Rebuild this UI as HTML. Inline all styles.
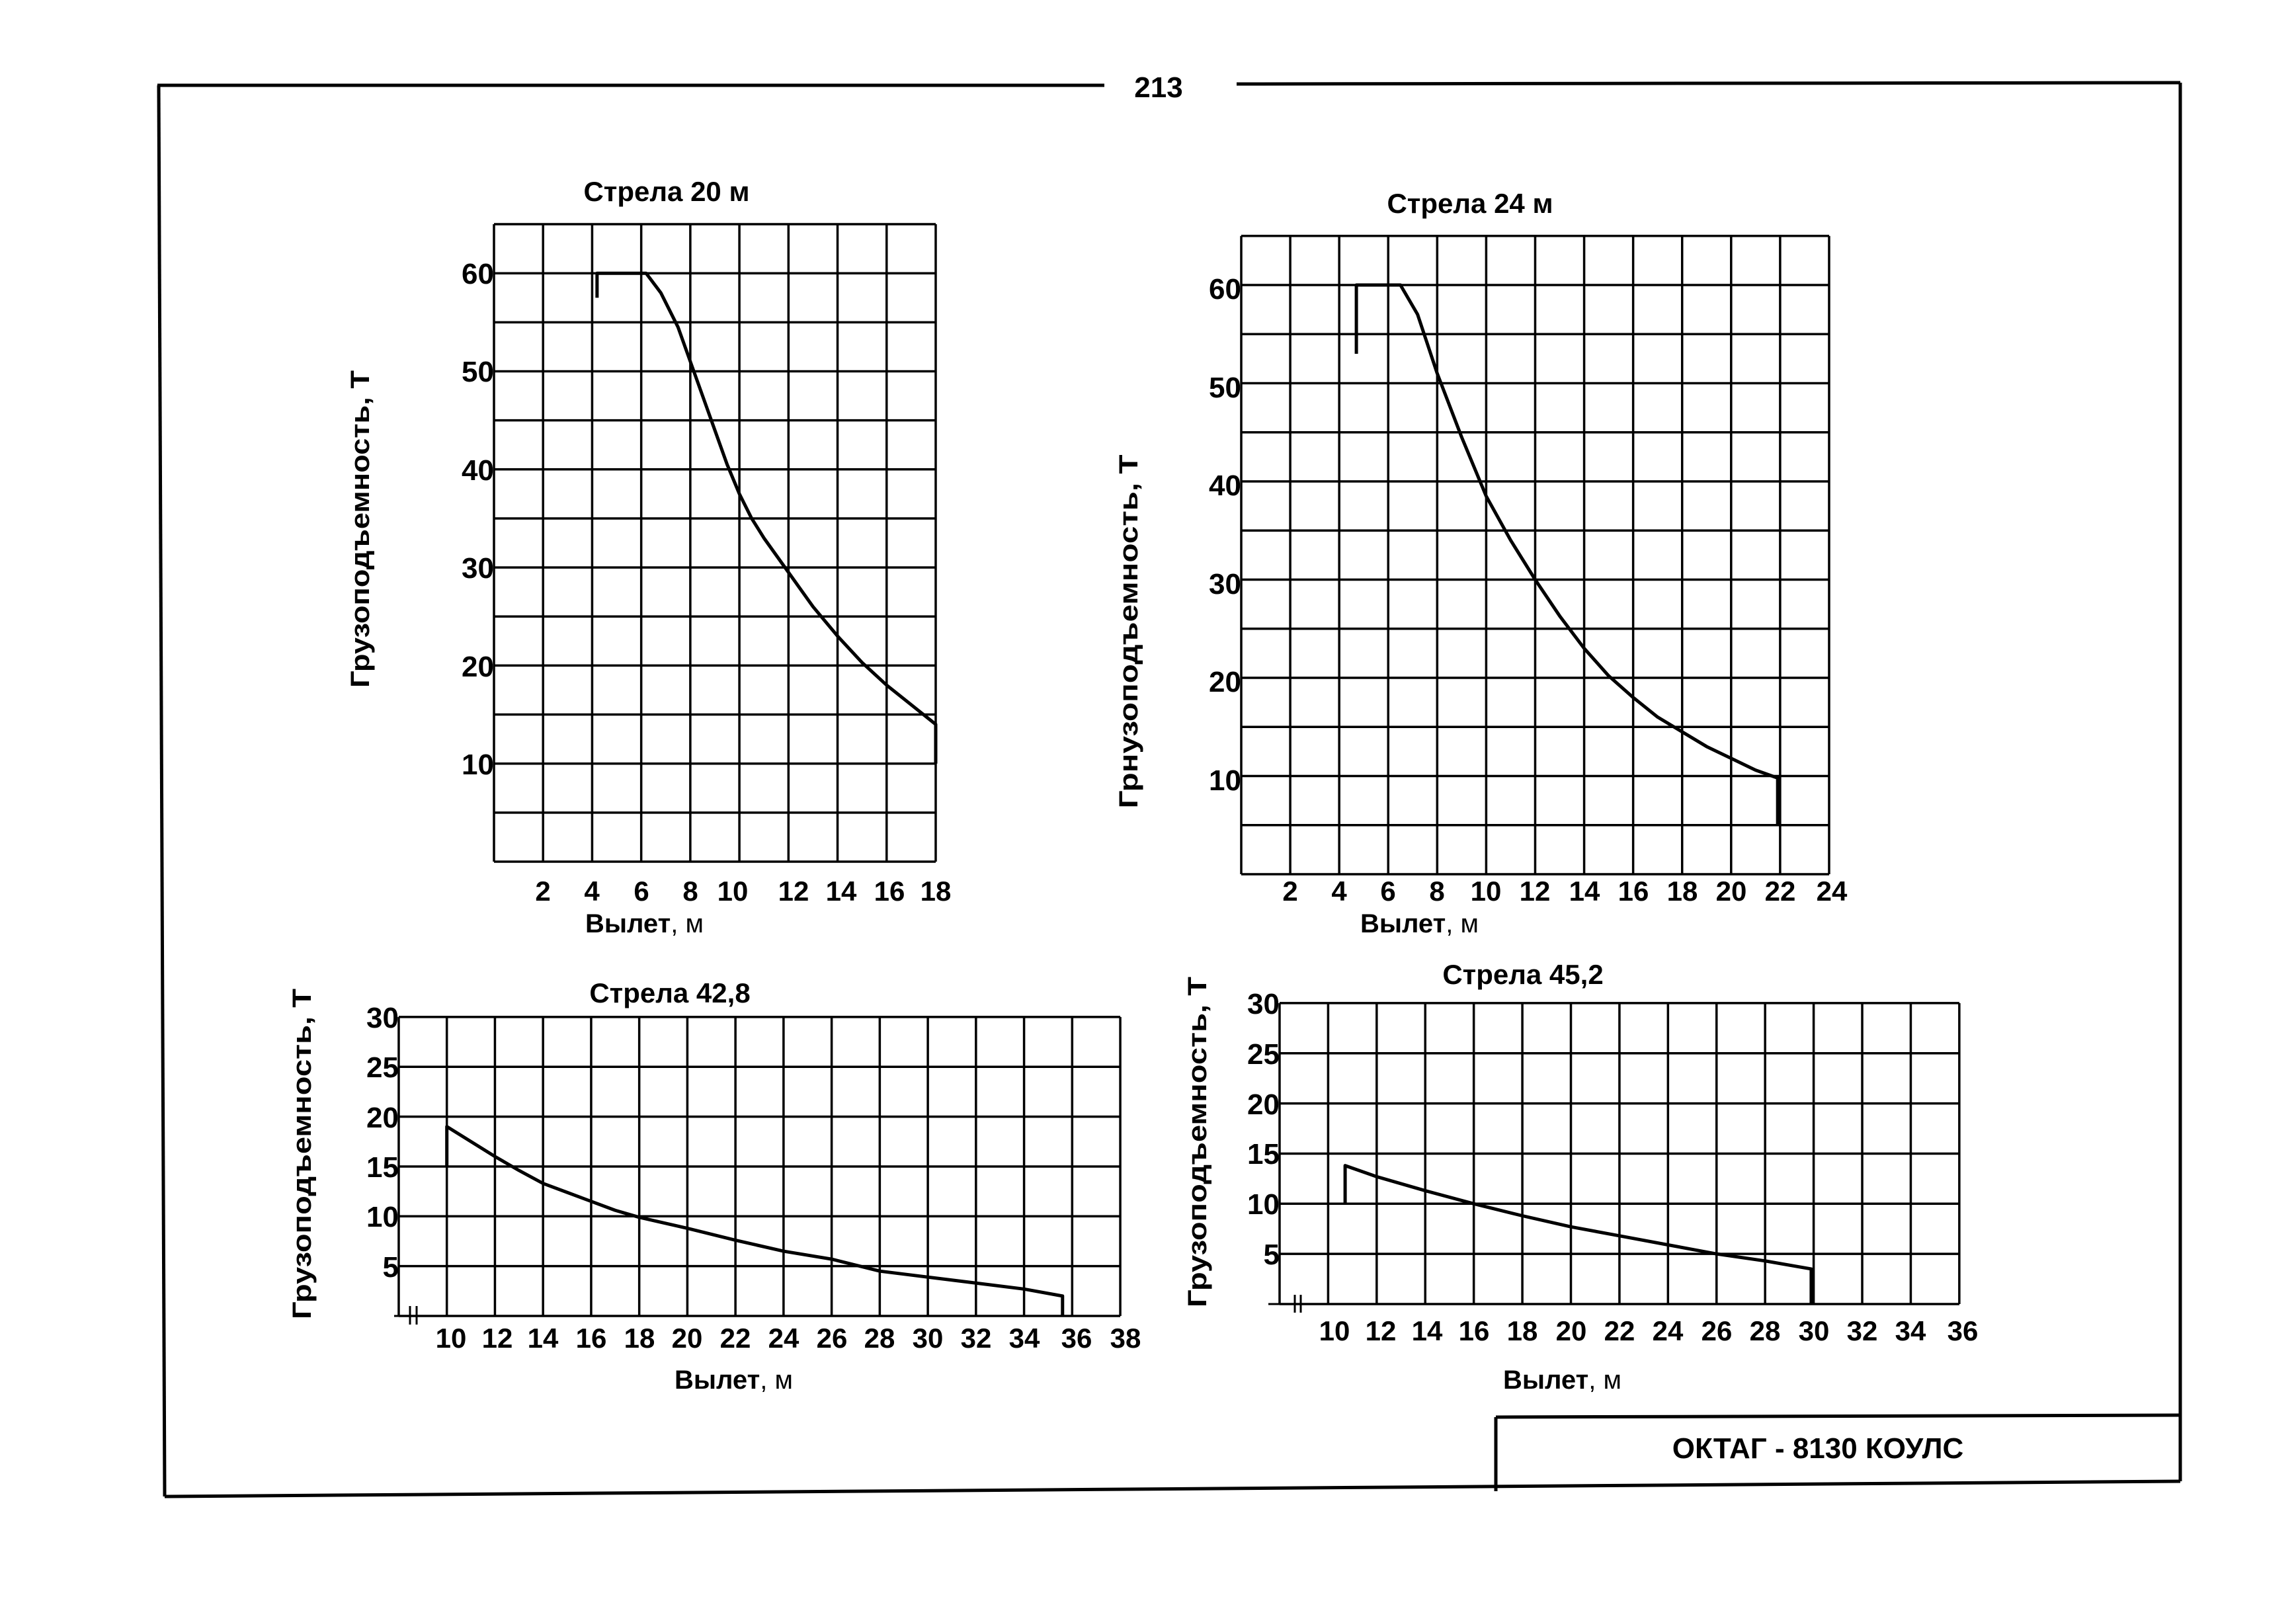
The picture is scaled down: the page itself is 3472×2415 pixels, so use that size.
<!DOCTYPE html>
<html><head><meta charset="utf-8"><style>
html,body{margin:0;padding:0;background:#fff}
svg{display:block}
text{font-family:"Liberation Sans",sans-serif;font-weight:bold;fill:#000}
.g line,.g polyline{vector-effect:non-scaling-stroke;fill:none;stroke:#000}
.g line{stroke-width:3.5}
.g polyline{stroke-width:5;stroke-linejoin:round}
.yt{font-size:44px;text-anchor:end}
.xt{font-size:42px;text-anchor:middle}
.ti{font-size:42px;text-anchor:middle}
.lb{font-size:40px}
</style></head><body>
<svg width="3472" height="2415" viewBox="0 0 3472 2415" xmlns="http://www.w3.org/2000/svg">
<rect width="3472" height="2415" fill="#fff"/>
<g stroke="#000" stroke-width="5" fill="none">
<line x1="238" y1="129" x2="1670" y2="129"/>
<line x1="1870" y1="127" x2="3297" y2="125"/>
<line x1="3297" y1="125" x2="3297" y2="2240"/>
<line x1="240" y1="129" x2="249" y2="2263"/>
<line x1="249" y1="2263" x2="3297" y2="2240"/>
<line x1="2262" y1="2143" x2="3297" y2="2140"/>
<line x1="2262" y1="2143" x2="2262" y2="2255"/>
</g>
<text x="1752" y="147" style="font-size:44px;text-anchor:middle">213</text>
<text x="2749" y="2205" style="font-size:44px;text-anchor:middle">ОКТАГ - 8130 КОУЛС</text>

<!-- Chart 1 -->
<text class="ti" x="1008" y="304">Стрела 20 м</text>
<text class="lb" transform="translate(558,800) rotate(-90)" text-anchor="middle" textLength="480" lengthAdjust="spacingAndGlyphs">Грузоподъемность, Т</text>
<g class="g" transform="matrix(37.11 0 0 -14.83 747 1303)">
<line x1="0" y1="0" x2="0" y2="65"/><line x1="2" y1="0" x2="2" y2="65"/><line x1="4" y1="0" x2="4" y2="65"/><line x1="6" y1="0" x2="6" y2="65"/><line x1="8" y1="0" x2="8" y2="65"/><line x1="10" y1="0" x2="10" y2="65"/><line x1="12" y1="0" x2="12" y2="65"/><line x1="14" y1="0" x2="14" y2="65"/><line x1="16" y1="0" x2="16" y2="65"/><line x1="18" y1="0" x2="18" y2="65"/>
<line x1="0" y1="0" x2="18" y2="0"/><line x1="0" y1="5" x2="18" y2="5"/><line x1="0" y1="10" x2="18" y2="10"/><line x1="0" y1="15" x2="18" y2="15"/><line x1="0" y1="20" x2="18" y2="20"/><line x1="0" y1="25" x2="18" y2="25"/><line x1="0" y1="30" x2="18" y2="30"/><line x1="0" y1="35" x2="18" y2="35"/><line x1="0" y1="40" x2="18" y2="40"/><line x1="0" y1="45" x2="18" y2="45"/><line x1="0" y1="50" x2="18" y2="50"/><line x1="0" y1="55" x2="18" y2="55"/><line x1="0" y1="60" x2="18" y2="60"/><line x1="0" y1="65" x2="18" y2="65"/>
<polyline points="4.2,57.5 4.2,60 6.2,60 6.8,58 7.5,54.5 8,51 8.5,47.5 9,44 9.5,40.5 10,37.5 10.5,35 11,33 12,29.5 13,26 14,23 15,20.3 16,18 17,16 18,14 18,10"/>
</g>
<text class="yt" x="747" y="429">60</text><text class="yt" x="747" y="577">50</text><text class="yt" x="747" y="726">40</text><text class="yt" x="747" y="874">30</text><text class="yt" x="747" y="1023">20</text><text class="yt" x="747" y="1171">10</text>
<text class="xt" x="821" y="1362">2</text><text class="xt" x="895" y="1362">4</text><text class="xt" x="970" y="1362">6</text><text class="xt" x="1044" y="1362">8</text><text class="xt" x="1108" y="1362">10</text><text class="xt" x="1200" y="1362">12</text><text class="xt" x="1272" y="1362">14</text><text class="xt" x="1345" y="1362">16</text><text class="xt" x="1415" y="1362">18</text>
<text class="lb" x="885" y="1410">Вылет<tspan font-weight="normal">, м</tspan></text>

<!-- Chart 2 -->
<text class="ti" x="2223" y="322">Стрела 24 м</text>
<text class="lb" transform="translate(1720,955) rotate(-90)" text-anchor="middle" textLength="535" lengthAdjust="spacingAndGlyphs">Грнузоподъемность, Т</text>
<g class="g" transform="matrix(37.04 0 0 -14.85 1877 1322)">
<line x1="0" y1="0" x2="0" y2="65"/><line x1="2" y1="0" x2="2" y2="65"/><line x1="4" y1="0" x2="4" y2="65"/><line x1="6" y1="0" x2="6" y2="65"/><line x1="8" y1="0" x2="8" y2="65"/><line x1="10" y1="0" x2="10" y2="65"/><line x1="12" y1="0" x2="12" y2="65"/><line x1="14" y1="0" x2="14" y2="65"/><line x1="16" y1="0" x2="16" y2="65"/><line x1="18" y1="0" x2="18" y2="65"/><line x1="20" y1="0" x2="20" y2="65"/><line x1="22" y1="0" x2="22" y2="65"/><line x1="24" y1="0" x2="24" y2="65"/>
<line x1="0" y1="0" x2="24" y2="0"/><line x1="0" y1="5" x2="24" y2="5"/><line x1="0" y1="10" x2="24" y2="10"/><line x1="0" y1="15" x2="24" y2="15"/><line x1="0" y1="20" x2="24" y2="20"/><line x1="0" y1="25" x2="24" y2="25"/><line x1="0" y1="30" x2="24" y2="30"/><line x1="0" y1="35" x2="24" y2="35"/><line x1="0" y1="40" x2="24" y2="40"/><line x1="0" y1="45" x2="24" y2="45"/><line x1="0" y1="50" x2="24" y2="50"/><line x1="0" y1="55" x2="24" y2="55"/><line x1="0" y1="60" x2="24" y2="60"/><line x1="0" y1="65" x2="24" y2="65"/>
<polyline points="4.7,53 4.7,60 6.5,60 7.2,57 8,51 9,44.5 10,38.5 11,34 12,30 13,26.3 14,23 15,20.2 16,18 17,16 18,14.5 19,13 20,11.8 21,10.6 21.9,9.8 21.9,5"/>
</g>
<text class="yt" x="1877" y="452">60</text><text class="yt" x="1877" y="601">50</text><text class="yt" x="1877" y="749">40</text><text class="yt" x="1877" y="898">30</text><text class="yt" x="1877" y="1046">20</text><text class="yt" x="1877" y="1195">10</text>
<text class="xt" x="1951" y="1362">2</text><text class="xt" x="2025" y="1362">4</text><text class="xt" x="2099" y="1362">6</text><text class="xt" x="2173" y="1362">8</text><text class="xt" x="2247" y="1362">10</text><text class="xt" x="2321" y="1362">12</text><text class="xt" x="2396" y="1362">14</text><text class="xt" x="2470" y="1362">16</text><text class="xt" x="2544" y="1362">18</text><text class="xt" x="2618" y="1362">20</text><text class="xt" x="2692" y="1362">22</text><text class="xt" x="2770" y="1362">24</text>
<text class="lb" x="2057" y="1410">Вылет<tspan font-weight="normal">, м</tspan></text>

<!-- Chart 3 -->
<text class="ti" x="1013" y="1516">Стрела 42,8</text>
<text class="lb" transform="translate(470,1745) rotate(-90)" text-anchor="middle" textLength="500" lengthAdjust="spacingAndGlyphs">Грузоподъемность, Т</text>
<g class="g" transform="matrix(36.37 0 0 -15.07 312 1990)">
<line x1="8" y1="0" x2="8" y2="30"/><line x1="10" y1="0" x2="10" y2="30"/><line x1="12" y1="0" x2="12" y2="30"/><line x1="14" y1="0" x2="14" y2="30"/><line x1="16" y1="0" x2="16" y2="30"/><line x1="18" y1="0" x2="18" y2="30"/><line x1="20" y1="0" x2="20" y2="30"/><line x1="22" y1="0" x2="22" y2="30"/><line x1="24" y1="0" x2="24" y2="30"/><line x1="26" y1="0" x2="26" y2="30"/><line x1="28" y1="0" x2="28" y2="30"/><line x1="30" y1="0" x2="30" y2="30"/><line x1="32" y1="0" x2="32" y2="30"/><line x1="34" y1="0" x2="34" y2="30"/><line x1="36" y1="0" x2="36" y2="30"/><line x1="38" y1="0" x2="38" y2="30"/>
<line x1="8" y1="0" x2="38" y2="0"/><line x1="8" y1="5" x2="38" y2="5"/><line x1="8" y1="10" x2="38" y2="10"/><line x1="8" y1="15" x2="38" y2="15"/><line x1="8" y1="20" x2="38" y2="20"/><line x1="8" y1="25" x2="38" y2="25"/><line x1="8" y1="30" x2="38" y2="30"/>
<polyline points="10,15 10,19 11,17.5 12,16 13,14.6 14,13.3 15,12.4 16,11.5 17,10.6 18,9.9 20,8.8 22,7.6 24,6.5 26,5.7 28,4.5 30,3.9 32,3.3 34,2.7 35.6,2 35.6,0"/>
</g>
<g stroke="#000" stroke-width="3"><line x1="596" y1="1990" x2="625" y2="1990"/><line x1="620" y1="1975" x2="620" y2="2003"/><line x1="630" y1="1975" x2="630" y2="2003"/></g>
<text class="yt" x="603" y="1554">30</text><text class="yt" x="603" y="1629">25</text><text class="yt" x="603" y="1705">20</text><text class="yt" x="603" y="1780">15</text><text class="yt" x="603" y="1855">10</text><text class="yt" x="603" y="1931">5</text>
<text class="xt" x="682" y="2038">10</text><text class="xt" x="752" y="2038">12</text><text class="xt" x="821" y="2038">14</text><text class="xt" x="894" y="2038">16</text><text class="xt" x="967" y="2038">18</text><text class="xt" x="1039" y="2038">20</text><text class="xt" x="1112" y="2038">22</text><text class="xt" x="1185" y="2038">24</text><text class="xt" x="1258" y="2038">26</text><text class="xt" x="1330" y="2038">28</text><text class="xt" x="1403" y="2038">30</text><text class="xt" x="1476" y="2038">32</text><text class="xt" x="1549" y="2038">34</text><text class="xt" x="1628" y="2038">36</text><text class="xt" x="1702" y="2038">38</text>
<text class="lb" x="1020" y="2100">Вылет<tspan font-weight="normal">, м</tspan></text>

<!-- Chart 4 -->
<text class="ti" x="2303" y="1488">Стрела 45,2</text>
<text class="lb" transform="translate(1824,1727) rotate(-90)" text-anchor="middle" textLength="500" lengthAdjust="spacingAndGlyphs">Грузоподъемность, Т</text>
<g class="g" transform="matrix(36.71 0 0 -15.17 1641.3 1972)">
<line x1="8" y1="0" x2="8" y2="30"/><line x1="10" y1="0" x2="10" y2="30"/><line x1="12" y1="0" x2="12" y2="30"/><line x1="14" y1="0" x2="14" y2="30"/><line x1="16" y1="0" x2="16" y2="30"/><line x1="18" y1="0" x2="18" y2="30"/><line x1="20" y1="0" x2="20" y2="30"/><line x1="22" y1="0" x2="22" y2="30"/><line x1="24" y1="0" x2="24" y2="30"/><line x1="26" y1="0" x2="26" y2="30"/><line x1="28" y1="0" x2="28" y2="30"/><line x1="30" y1="0" x2="30" y2="30"/><line x1="32" y1="0" x2="32" y2="30"/><line x1="34" y1="0" x2="34" y2="30"/><line x1="36" y1="0" x2="36" y2="30"/>
<line x1="8" y1="0" x2="36" y2="0"/><line x1="8" y1="5" x2="36" y2="5"/><line x1="8" y1="10" x2="36" y2="10"/><line x1="8" y1="15" x2="36" y2="15"/><line x1="8" y1="20" x2="36" y2="20"/><line x1="8" y1="25" x2="36" y2="25"/><line x1="8" y1="30" x2="36" y2="30"/>
<polyline points="10.7,10 10.7,13.8 12,12.7 14,11.3 16,10 18,8.8 20,7.7 22,6.8 24,5.9 26,5.0 28,4.3 29.9,3.5 29.9,0"/>
</g>
<g stroke="#000" stroke-width="3"><line x1="1918" y1="1972" x2="1945" y2="1972"/><line x1="1958" y1="1958" x2="1958" y2="1985"/><line x1="1967" y1="1958" x2="1967" y2="1985"/></g>
<text class="yt" x="1935" y="1533">30</text><text class="yt" x="1935" y="1609">25</text><text class="yt" x="1935" y="1685">20</text><text class="yt" x="1935" y="1760">15</text><text class="yt" x="1935" y="1836">10</text><text class="yt" x="1935" y="1912">5</text>
<text class="xt" x="2018" y="2027">10</text><text class="xt" x="2088" y="2027">12</text><text class="xt" x="2158" y="2027">14</text><text class="xt" x="2229" y="2027">16</text><text class="xt" x="2302" y="2027">18</text><text class="xt" x="2376" y="2027">20</text><text class="xt" x="2449" y="2027">22</text><text class="xt" x="2522" y="2027">24</text><text class="xt" x="2596" y="2027">26</text><text class="xt" x="2669" y="2027">28</text><text class="xt" x="2743" y="2027">30</text><text class="xt" x="2816" y="2027">32</text><text class="xt" x="2889" y="2027">34</text><text class="xt" x="2968" y="2027">36</text>
<text class="lb" x="2273" y="2100">Вылет<tspan font-weight="normal">, м</tspan></text>
</svg>
</body></html>
